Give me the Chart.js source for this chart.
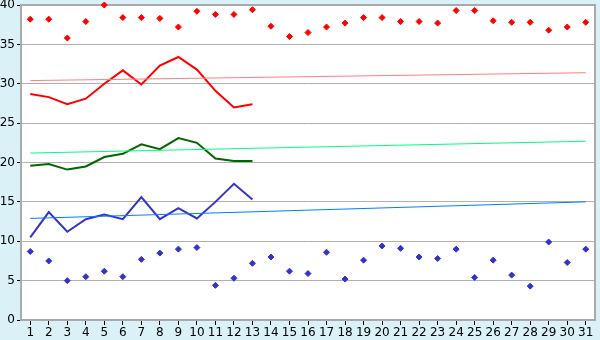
<!DOCTYPE html>
<html>
<head>
<meta charset="utf-8">
<script src="https://cdn.jsdelivr.net/npm/chart.js@4.4.1/dist/chart.umd.min.js"></script>
<style>
  html, body { margin: 0; padding: 0; background: #daf1f8; }
  #wrap { width: 600px; height: 340px; }
</style>
</head>
<body>
<div id="wrap"><canvas id="chart"></canvas></div>
<script>
// days of the month
const days = Array.from({ length: 31 }, (_, i) => String(i + 1));

// daily highs (red diamonds) and lows (blue diamonds)
const highPoints = [38.2, 38.2, 35.8, 37.9, 40.0, 38.4, 38.4, 38.3, 37.2, 39.2,
  38.8, 38.8, 39.4, 37.3, 36.0, 36.5, 37.2, 37.7, 38.4, 38.4,
  37.9, 37.9, 37.7, 39.3, 39.3, 38.0, 37.8, 37.8, 36.8, 37.2, 37.8];
const lowPoints = [8.7, 7.5, 5.0, 5.5, 6.2, 5.5, 7.7, 8.5, 9.0, 9.2,
  4.4, 5.3, 7.2, 8.0, 6.2, 5.9, 8.6, 5.2, 7.6, 9.4,
  9.1, 8.0, 7.8, 9.0, 5.4, 7.6, 5.7, 4.3, 9.9, 7.3, 9.0];

// running lines, first 13 days only
const redLine = [28.7, 28.3, 27.4, 28.1, 30.0, 31.7, 29.9, 32.3, 33.4, 31.8, 29.1, 27.0, 27.4];
const greenLine = [19.6, 19.8, 19.1, 19.5, 20.7, 21.1, 22.3, 21.7, 23.1, 22.5, 20.5, 20.2, 20.2];
const blueLine = [10.5, 13.7, 11.2, 12.8, 13.4, 12.8, 15.6, 12.8, 14.2, 12.9, 15.0, 17.3, 15.3];

// trend lines: value at day 1 and day 31
const redTrend = [30.4, 31.4];
const greenTrend = [21.2, 22.7];
const blueTrend = [12.9, 15.0];

const yTicks = [0, 5, 10, 15, 20, 25, 30, 35, 40];

function trendData(ends) {
  const arr = new Array(days.length).fill(null);
  arr[0] = ends[0];
  arr[days.length - 1] = ends[1];
  return arr;
}

const plotFrame = {
  id: 'plotFrame',
  beforeDraw(chart) {
    const { ctx, chartArea: a } = chart;
    ctx.save();
    ctx.fillStyle = '#daf1f8';
    ctx.fillRect(0, 0, chart.width, chart.height);
    ctx.fillStyle = '#ffffff';
    ctx.fillRect(a.left, a.top, a.right - a.left, a.bottom - a.top);
    ctx.restore();
  },
  beforeDatasetsDraw(chart) {
    const { ctx, chartArea: a } = chart;
    ctx.save();
    ctx.strokeStyle = '#aaaaaa';
    ctx.lineWidth = 2;
    ctx.beginPath();
    ctx.moveTo(a.left, a.top);
    ctx.lineTo(a.right, a.top);
    ctx.lineTo(a.right, a.bottom);
    ctx.stroke();
    ctx.restore();
  }
};

const lineStyle = (color, width) => ({
  borderColor: color,
  backgroundColor: color,
  borderWidth: width,
  pointRadius: 0,
  tension: 0,
  fill: false
});

const dotStyle = color => ({
  showLine: false,
  pointStyle: 'rectRot',
  pointRadius: 3,
  pointBorderWidth: 1,
  borderColor: color,
  backgroundColor: color
});

new Chart(document.getElementById('chart'), {
  type: 'line',
  data: {
    labels: days,
    datasets: [
      { data: trendData(redTrend), spanGaps: true, ...lineStyle('#ff8080', 1) },
      { data: trendData(greenTrend), spanGaps: true, ...lineStyle('#00ff80', 1) },
      { data: trendData(blueTrend), spanGaps: true, ...lineStyle('#0080ff', 1) },
      { data: redLine, ...lineStyle('#ff0000', 2) },
      { data: greenLine, ...lineStyle('#006600', 2) },
      { data: blueLine, ...lineStyle('#3333cc', 2) },
      { data: highPoints, ...dotStyle('#ff0000') },
      { data: lowPoints, ...dotStyle('#3333cc') }
    ]
  },
  options: {
    responsive: true,
    maintainAspectRatio: false,
    animation: false,
    clip: false,
    layout: { padding: { top: 5, right: 5, left: 0, bottom: 0 } },
    plugins: {
      legend: { display: false },
      tooltip: { enabled: false }
    },
    scales: {
      x: {
        offset: true,
        grid: { drawOnChartArea: false, offset: false, tickLength: 5, tickColor: '#000000' },
        border: { color: '#aaaaaa', width: 2 },
        ticks: {
          color: '#000000',
          font: { family: 'DejaVu Sans', size: 12 },
          padding: 1,
          maxRotation: 0,
          autoSkip: false
        },
        afterFit(scale) {
          scale.height = 20;
          scale.paddingLeft = 0;
          scale.paddingRight = 0;
        }
      },
      y: {
        min: 0,
        max: 40,
        afterBuildTicks(scale) { scale.ticks = yTicks.map(v => ({ value: v })); },
        grid: { color: '#b0b0b0', tickLength: 4, tickColor: '#000000' },
        border: { color: '#aaaaaa', width: 2 },
        ticks: {
          color: '#000000',
          font: { family: 'DejaVu Sans', size: 12 },
          padding: 2
        },
        afterFit(scale) {
          scale.width = 21;
          scale.paddingTop = 0;
          scale.paddingBottom = 0;
        }
      }
    }
  },
  plugins: [plotFrame]
});
</script>
</body>
</html>
